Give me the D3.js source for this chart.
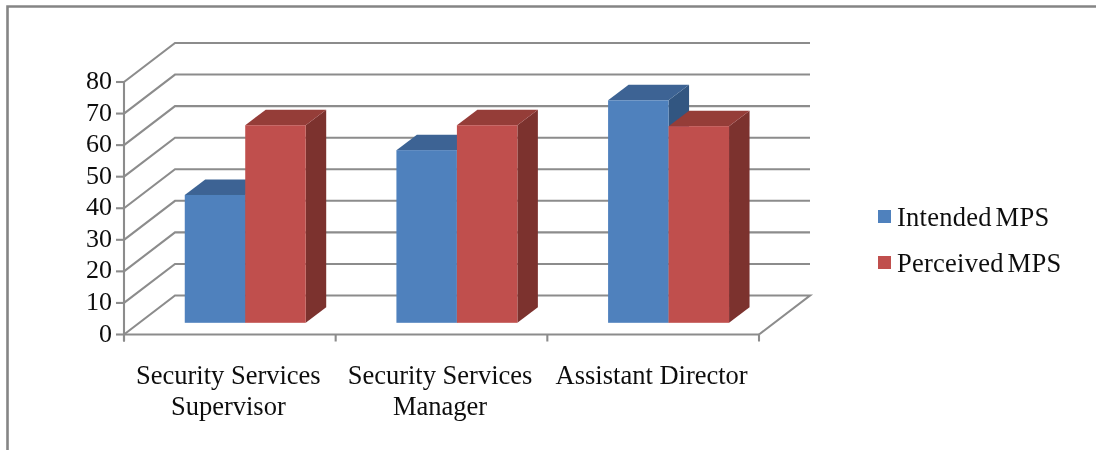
<!DOCTYPE html>
<html><head><meta charset="utf-8">
<script src="https://cdn.jsdelivr.net/npm/d3@7/dist/d3.min.js"></script>
<style>html,body{margin:0;padding:0;background:#fff}svg{display:block}text{font-family:"Liberation Serif",serif;fill:#111}</style>
</head><body><svg id="c" width="1096" height="450"></svg>
<script>
const categories=[["Security Services","Supervisor"],["Security Services","Manager"],["Assistant Director"]];
const seriesNames=["Intended MPS","Perceived MPS"];
const intended=[40.5,54.7,70.5];
const perceived=[62.6,62.6,62.3];
const yTicks=[0,10,20,30,40,50,60,70,80];

const svg=d3.select("#c");
const defs=svg.append("defs");
defs.append("filter").attr("id","soft").attr("filterUnits","userSpaceOnUse")
  .attr("x",0).attr("y",0).attr("width",1096).attr("height",450)
  .append("feGaussianBlur").attr("stdDeviation",0.6);
const root=svg.append("g").attr("filter","url(#soft)");

// frame
root.append("path").attr("d","M7.5 450V6.5H1096").attr("fill","none").attr("stroke","#858585").attr("stroke-width",2.6);

const y=d3.scaleLinear().domain([0,80]).range([334.5,82]);
const x=d3.scaleBand().domain(d3.range(categories.length)).range([124,759]);
const wallDx=51,wallDy=-39;      // depth of the floor
const barDx=20.5,barDy=-15.5;    // depth of a bar
const floorDx=15.4,floorDy=-11.7;// gap from front axis to bars
const gridCol="#8c8c8c";

// gridlines: wall + side wall
const grid=root.append("g").attr("fill","none").attr("stroke",gridCol).attr("stroke-width",2.1);
grid.selectAll("path").data(yTicks).join("path")
  .attr("d",d=>d===0
    ?`M124 ${y(0)}L${124+wallDx} ${y(0)+wallDy}H${759+wallDx}L759 ${y(0)}`
    :`M124 ${y(d)}L${124+wallDx} ${y(d)+wallDy}H${759+wallDx}`);

// axes
const axisG=root.append("g").attr("stroke",gridCol).attr("stroke-width",2.1).attr("fill","none");
axisG.append("path").attr("d",`M124 ${y(80)}V${y(0)+7}`);
axisG.append("path").attr("d",`M124 ${y(0)}H759`);
axisG.selectAll(".ty").data(yTicks).join("path").attr("class","ty").attr("d",d=>`M116 ${y(d)}H124`);
axisG.selectAll(".tx").data(d3.range(categories.length+1)).join("path").attr("class","tx")
  .attr("d",i=>{const px=i<categories.length?x(i):x.range()[1];return `M${px} ${y(0)}V${y(0)+7}`;});

root.append("g").selectAll("text").data(yTicks).join("text")
  .attr("x",112).attr("y",d=>y(d)-1.5).attr("dy","0.33em").attr("text-anchor","end")
  .attr("font-size",26).text(d=>d);

// bars
const inner=d3.scaleBand().domain(seriesNames).range([0,x.bandwidth()]).paddingInner(0).paddingOuter(0.75);
const styles=[
  {front:"#4f81bd",topFace:"#3c6494",side:"#335681"},
  {front:"#c0504d",topFace:"#953c39",side:"#7c302e"}];
const bars=[];
categories.forEach((c,i)=>{
  bars.push({i,s:0,v:intended[i]});
  bars.push({i,s:1,v:perceived[i]});
});
const base=y(0)+floorDy;
const bw=inner.bandwidth();
const bx=d=>x(d.i)+floorDx+inner(seriesNames[d.s]);
const topY=d=>base-(y(0)-y(d.v));
const gb=root.append("g").selectAll("g").data(bars).join("g");
gb.append("path").attr("fill",d=>styles[d.s].side)
  .attr("d",d=>`M${bx(d)+bw} ${topY(d)}l${barDx} ${barDy}V${base+barDy}l${-barDx} ${-barDy}Z`);
gb.append("path").attr("fill",d=>styles[d.s].topFace)
  .attr("d",d=>`M${bx(d)} ${topY(d)}l${barDx} ${barDy}h${bw}l${-barDx} ${-barDy}Z`);
gb.append("rect").attr("fill",d=>styles[d.s].front)
  .attr("x",bx).attr("y",topY).attr("width",bw).attr("height",d=>base-topY(d));

// category labels
const labels=root.append("g").selectAll("text").data(categories).join("text")
  .attr("text-anchor","middle").attr("font-size",26.5);
labels.each(function(c,i){
  d3.select(this).selectAll("tspan").data(c).join("tspan")
    .attr("x",x(i)+x.bandwidth()/2-1.5).attr("y",(d,j)=>384+j*31).text(d=>d);
});

// legend
const lg=root.append("g").selectAll("g").data(seriesNames).join("g")
  .attr("transform",(d,i)=>`translate(878,${210+i*46})`);
lg.append("rect").attr("width",13).attr("height",13).attr("fill",(d,i)=>styles[i].front);
lg.append("text").attr("x",19).attr("y",16).attr("font-size",26.5)
  .attr("word-spacing",-3).attr("letter-spacing",0.25).text(d=>d);
</script></body></html>
